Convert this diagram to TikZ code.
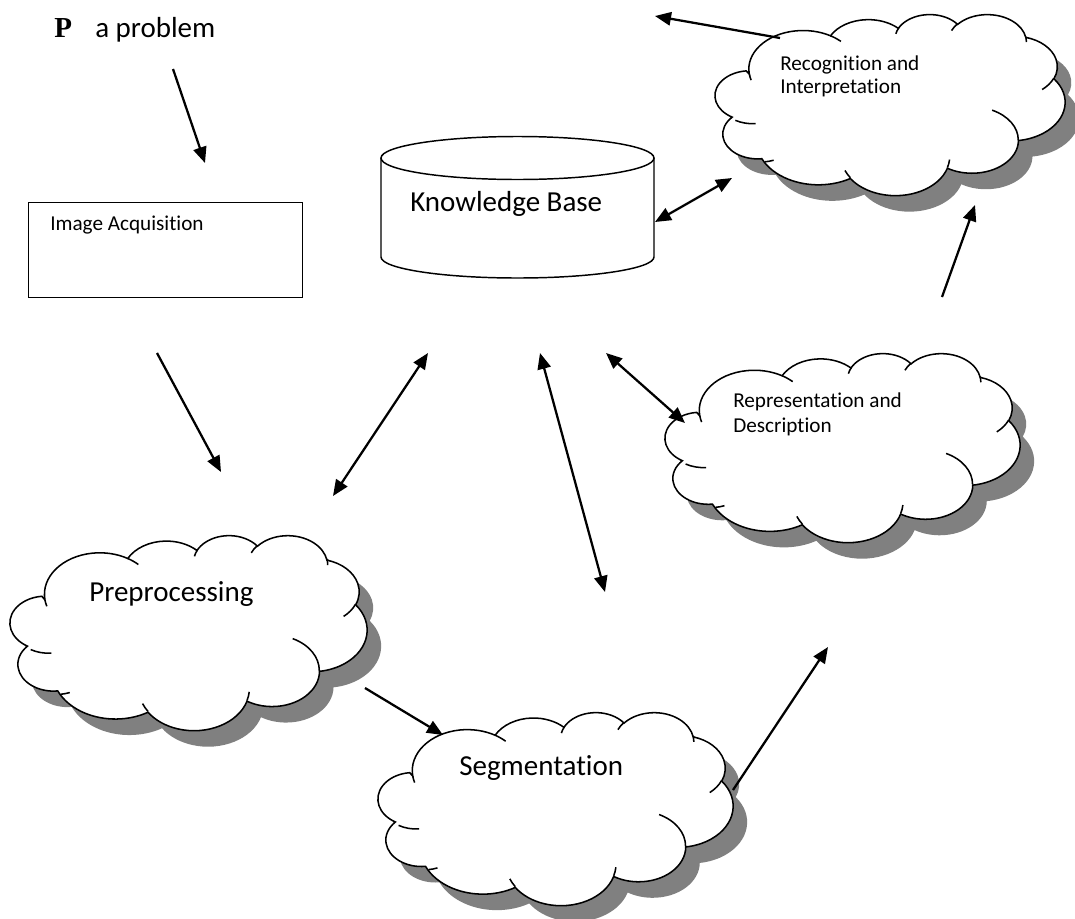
\documentclass[tikz,border=0pt]{standalone}
\usepackage{fontspec}
\setmainfont[Ligatures={NoCommon}]{Carlito}
\newfontfamily\serifb{Liberation Serif}
\usetikzlibrary{arrows.meta}
\definecolor{shadowgray}{RGB}{128,128,128}

% OOXML-style elliptical arcTo (visual angles -> parametric)
\newcommand\ooarc[4]{\pgfextra{%
  \pgfmathparse{atan2((#1)*sin(#3),(#2)*cos(#3))}\xdef\oots{\pgfmathresult}%
  \pgfmathparse{atan2((#1)*sin((#3)+(#4)),(#2)*cos((#3)+(#4)))}\xdef\ooe{\pgfmathresult}%
  \pgfmathparse{\ooe-\oots}\xdef\ood{\pgfmathresult}%
  \pgfmathparse{\ood+360*((#4)>0)*(\ood<0)-360*((#4)<0)*(\ood>0)}\xdef\ood{\pgfmathresult}%
  }arc[start angle=\oots,delta angle=\ood,x radius=#1,y radius=#2]}

\newcommand\cloudpath{(39,143.7)
 \ooarc{67.53}{91.90}{-190.4875}{123.7805}
 \ooarc{53.33}{72.67}{-144.1024}{89.9452}
 \ooarc{43.65}{59.45}{-145.8079}{99.7230}
 \ooarc{48.57}{65.95}{-130.9861}{117.2417}
 \ooarc{53.33}{72.73}{-78.7089}{109.0269}
 \ooarc{67.75}{92.20}{-46.2673}{130.2690}
 \ooarc{57.85}{78.67}{0.6250}{114.0333}
 \ooarc{67.52}{92.15}{22.4516}{115.1726}
 \ooarc{77.20}{105.43}{66.2426}{82.2728}
 \ooarc{43.60}{59.18}{-274.9421}{146.7356}
 \ooarc{43.45}{59.45}{-246.8285}{152.5189}
 -- cycle}

\newcommand\cloudinner{
 (46.93,261.77) \ooarc{43.45}{59.45}{86.7420}{26.4295}
 (69.28,348.99) \ooarc{43.60}{59.18}{73.6105}{11.4475}
 (164.78,390.90) \ooarc{67.52}{92.15}{137.6242}{14.0811}
 (288.27,347.51) \ooarc{67.52}{92.15}{6.4533}{15.9984}
 (341.29,229.54) \ooarc{57.85}{78.67}{-70.2924}{70.9174}
 (417.98,153.54) \ooarc{53.33}{72.73}{30.3180}{27.7515}
 (383.24,54.26) \ooarc{48.57}{65.95}{-13.7443}{14.8589}
 (290.78,39.52) \ooarc{48.57}{65.95}{-149.1815}{18.1954}
 (221.41,47.20) \ooarc{43.65}{59.45}{-163.4943}{17.6864}
 (140.00,51.92) \ooarc{67.53}{91.90}{-66.7070}{12.3194}
 (41.27,157.89) \ooarc{67.53}{91.90}{157.6544}{11.8582}
}

\newcommand\drawcloud[5]{%
  \begin{scope}[shift={(#2+14,#3+16)},xscale=#4/432,yscale=#5/432]
    \fill[shadowgray] \cloudpath;
  \end{scope}
  \begin{scope}[shift={(#2,#3)},xscale=#4/432,yscale=#5/432]
    \filldraw[cloudline,fill=white] \cloudpath;
    \draw[cloudline] \cloudinner;
    \coordinate (#1) at (216,216);
  \end{scope}}

\tikzset{
  cloudline/.style={draw=black,line width=1.15pt},
  shapeline/.style={draw=black,line width=1.1pt},
  arr/.style={line width=1.7pt,-{Triangle[length=12pt,width=10pt]}},
  darr/.style={line width=1.7pt,{Triangle[length=12pt,width=10pt]}-{Triangle[length=12pt,width=10pt]}},
  bigtxt/.style={anchor=base west,inner sep=0pt,font=\fontsize{21.75pt}{26pt}\selectfont},
  smalltxt/.style={anchor=base west,inner sep=0pt,font=\fontsize{15.9pt}{19pt}\selectfont}
}

\begin{document}
\begin{tikzpicture}[x=0.75pt,y=-0.75pt]
\fill[white] (0,0) rectangle (1075,918);
\useasboundingbox (0,0) rectangle (1075,918);

% clouds
\drawcloud{rec}{718}{14}{347}{181}
\drawcloud{repr}{668}{353}{352}{189}
\drawcloud{pre}{13}{535}{354}{195}
\drawcloud{seg}{381}{712}{352}{193}

% knowledge base cylinder
\draw[shapeline,fill=white] (381,158) -- (381,257) arc[start angle=180,end angle=0,x radius=136.5,y radius=21] -- (654,158);
\draw[shapeline] (517.5,158) ellipse[x radius=136.5,y radius=21.5];
\coordinate (kb) at (517.5,208);

% image acquisition box
\node[shapeline,anchor=north west,minimum width=205.5pt,minimum height=71.25pt,inner sep=0pt] (imgbox) at (28,202) {};

% texts
\node[bigtxt] (pP) at (54,37) {\serifb\bfseries P};
\node[bigtxt] (prob) at (95,37) {a problem};
\node[bigtxt] (kbt) at (410,211) {Knowledge Base};
\node[smalltxt] (imgt) at (50,230) {Image Acquisition};
\node[smalltxt] (rec1) at (780,70) {Recognition and};
\node[smalltxt] (rec2) at (780,93) {Interpretation};
\node[smalltxt] (rep1) at (733,407) {Representation and};
\node[smalltxt] (rep2) at (733,432) {Description};
\node[bigtxt] (pret) at (89,601) {Preprocessing};
\node[bigtxt] (segt) at (459,775) {Segmentation};

% arrow end points
\coordinate (a1s) at (173,69);   \coordinate (a1e) at (205,163);
\coordinate (a2s) at (157,353);  \coordinate (a2e) at (221,472);
\coordinate (a3s) at (333,496);  \coordinate (a3e) at (428,353);
\coordinate (a4s) at (540,353);  \coordinate (a4e) at (605,592);
\coordinate (a5s) at (606,353);  \coordinate (a5e) at (685,423);
\coordinate (a6s) at (655,222);  \coordinate (a6e) at (732,178);
\coordinate (a7s) at (780,38);   \coordinate (a7e) at (655,16);
\coordinate (a8s) at (942,297);  \coordinate (a8e) at (975,205);
\coordinate (a9s) at (733,790);  \coordinate (a9e) at (828,647);
\coordinate (a10s) at (365,688); \coordinate (a10e) at (443,735);

\draw[arr] (a1s) -- (a1e);
\draw[arr] (a2s) -- (a2e);
\draw[darr] (a3s) -- (a3e);
\draw[darr] (a4s) -- (a4e);
\draw[darr] (a5s) -- (a5e);
\draw[darr] (a6s) -- (a6e);
\draw[arr] (a7s) -- (a7e);
\draw[arr] (a8s) -- (a8e);
\draw[arr] (a9s) -- (a9e);
\draw[arr] (a10s) -- (a10e);
\end{tikzpicture}
\end{document}
